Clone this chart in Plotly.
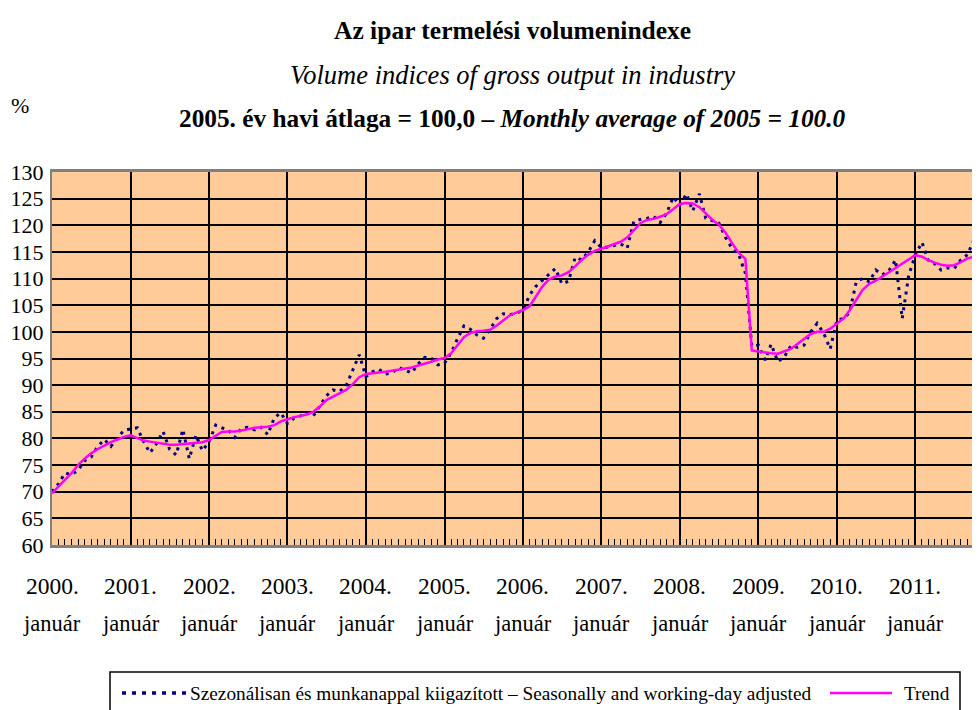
import plotly.graph_objects as go
import pandas as pd

# ---- data ----
years = list(range(2000, 2012))
year_labels = [f"{y}." for y in years]
month_label = "január"

trend = [
    69.7, 70.9, 72.2, 73.5, 75.0, 76.2, 77.2, 78.0, 78.7, 79.3, 79.8, 80.3,      # 2000
    80.6, 80.0, 79.6, 79.4, 79.2, 79.0, 78.8, 78.8, 78.9, 79.0, 79.1, 79.3,      # 2001
    79.7, 80.5, 81.2, 81.3, 81.3, 81.5, 81.8, 82.0, 82.1, 82.2, 82.5, 83.2,      # 2002
    83.6, 84.0, 84.2, 84.5, 85.0, 86.0, 87.2, 87.8, 88.4, 89.1, 90.2, 91.5,      # 2003
    92.1, 92.2, 92.3, 92.5, 92.7, 92.9, 93.0, 93.3, 93.7, 94.0, 94.4, 94.8,      # 2004
    95.1, 96.0, 97.5, 99.0, 99.8, 100.1, 100.2, 100.4, 101.2, 102.2, 103.1, 103.6,  # 2005
    104.1, 104.8, 106.5, 108.5, 109.8, 110.4, 110.6, 111.2, 112.3, 113.5, 114.5, 115.2,  # 2006
    115.6, 116.0, 116.4, 116.9, 117.7, 119.0, 120.4, 121.0, 121.2, 121.6, 122.1, 123.0,  # 2007
    124.0, 124.2, 124.1, 123.4, 122.2, 121.0, 120.1, 118.6, 116.6, 114.8, 113.7, 96.5,   # 2008
    96.3, 96.1, 96.0, 95.9, 96.3, 96.8, 97.7, 98.7, 99.6, 100.0, 100.0, 100.6,   # 2009
    101.5, 102.5, 104.0, 106.0, 107.9, 109.0, 109.6, 110.4, 111.2, 112.0, 112.9, 113.7,  # 2010
    114.4, 114.1, 113.5, 113.0, 112.6, 112.4, 112.5, 113.1, 113.8, 114.1, 113.6,         # 2011
]

adjusted = [
    70.0, 71.5, 73.5, 73.2, 74.0, 75.8, 76.5, 78.5, 79.8, 78.5, 80.2, 81.5,      # 2000
    81.8, 82.0, 79.5, 77.3, 79.0, 81.3, 78.0, 76.9, 81.7, 76.2, 80.6, 77.7,      # 2001
    79.4, 82.5, 82.0, 81.6, 80.2, 81.9, 82.1, 81.6, 82.1, 80.7, 83.9, 84.8,      # 2002
    82.8, 83.8, 84.2, 84.8, 84.2, 86.1, 88.0, 89.1, 88.8, 89.9, 92.7, 95.7,      # 2003
    91.6, 92.5, 93.0, 92.1, 92.3, 93.3, 92.8, 92.3, 94.0, 95.2, 95.0, 93.8,      # 2004
    94.1, 96.1, 98.6, 101.1, 100.5, 99.4, 98.8, 100.5, 102.5, 103.4, 103.2, 103.5,  # 2005
    104.1, 106.9, 108.5, 109.7, 110.7, 111.9, 109.0, 109.5, 114.0, 113.5, 115.0, 117.1,  # 2006
    115.8, 115.9, 116.2, 116.5, 115.7, 120.7, 121.1, 121.3, 121.7, 120.5, 122.3, 125.3,  # 2007
    123.8, 125.9, 122.7, 125.9, 121.3, 120.8, 120.4, 117.7, 115.6, 114.5, 111.0, 97.3,   # 2008
    97.5, 94.7, 97.7, 94.4, 95.3, 97.4, 97.1, 97.5, 100.0, 101.6, 99.7, 96.8,    # 2009
    102.2, 102.5, 103.6, 109.4, 110.0, 109.4, 111.6, 110.7, 111.5, 113.5, 102.5, 110.5,  # 2010
    114.5, 116.8, 113.5, 112.8, 111.6, 112.0, 111.9, 113.5, 114.5, 117.3, 118.0,         # 2011
]

months = pd.date_range("2000-01-01", periods=len(trend), freq="MS")

name_sa = "Szezonálisan és munkanappal kiigazított – Seasonally and working-day adjusted"
name_trend = "Trend"

SERIF = "'Liberation Serif', 'Times New Roman', serif"
SA_COLOR = "#000080"
TREND_COLOR = "#FF00FF"
SA_DASH = "3px,5px"

# ---- layout geometry (figure pixels; page has an 8px body margin) ----
OFF = 8
W, H = 980 - OFF, 710 - OFF
L, T = 52 - OFF, 172 - OFF
PLOT_BOTTOM = 545 - OFF
R, B = 0, H - PLOT_BOTTOM
plot_w = W - L - R
plot_h = PLOT_BOTTOM - T

def py(ypx):  # screen pixel -> paper y
    return (PLOT_BOTTOM - (ypx - OFF)) / plot_h

def px(xpx):  # screen pixel -> paper x
    return ((xpx - OFF) - L) / plot_w

fig = go.Figure()
fig.add_trace(go.Scatter(
    x=months, y=adjusted, mode="lines", name=name_sa,
    line=dict(color=SA_COLOR, width=3, dash=SA_DASH),
))
fig.add_trace(go.Scatter(
    x=months, y=trend, mode="lines", name=name_trend,
    line=dict(color=TREND_COLOR, width=2.5),
))

jan_ticks = [f"{y}-01-01" for y in years]

fig.update_layout(
    width=W, height=H,
    margin=dict(l=L, r=R, t=T, b=B, autoexpand=False),
    paper_bgcolor="white",
    plot_bgcolor="#FFCC99",
    font=dict(family=SERIF, color="black", size=20),
    showlegend=False,
    xaxis=dict(
        type="date",
        range=["2000-01-01", "2011-10-29"],
        tickvals=jan_ticks,
        showticklabels=False,
        showgrid=True, gridcolor="black", gridwidth=1.5,
        showline=True, linecolor="#808080", linewidth=2.5, mirror=True,
        ticks="inside", ticklen=6, tickcolor="black", tickwidth=1,
        minor=dict(ticks="inside", ticklen=6, tickcolor="black", tickwidth=1,
                   dtick="M1", tick0="2000-01-01", showgrid=False),
        zeroline=False, automargin=False,
    ),
    yaxis=dict(
        range=[60, 130],
        tickvals=list(range(60, 131, 5)),
        showgrid=True, gridcolor="black", gridwidth=1.5,
        showline=True, linecolor="#808080", linewidth=2,
        ticks="", tickfont=dict(family=SERIF, size=22, color="black"),
        ticklabelstandoff=2,
        zeroline=False, automargin=False,
    ),
)

ann = []
for y, lab in zip(years, year_labels):
    ann.append(dict(x=f"{y}-01-01", xref="x", y=py(586), yref="paper",
                    text=lab, showarrow=False, xanchor="center", yanchor="middle",
                    font=dict(family=SERIF, size=23.5, color="black")))
    ann.append(dict(x=f"{y}-01-01", xref="x", y=py(623), yref="paper",
                    text=month_label, showarrow=False, xanchor="center", yanchor="middle",
                    font=dict(family=SERIF, size=22.5, color="black")))

cx = px(512)
ann.append(dict(x=cx, xref="paper", y=py(30), yref="paper",
                text="<b>Az ipar termelési volumenindexe</b>", showarrow=False,
                xanchor="center", yanchor="middle",
                font=dict(family=SERIF, size=25.5, color="black")))
ann.append(dict(x=cx, xref="paper", y=py(75), yref="paper",
                text="<i>Volume indices of gross output in industry</i>", showarrow=False,
                xanchor="center", yanchor="middle",
                font=dict(family=SERIF, size=26.5, color="black")))
ann.append(dict(x=cx, xref="paper", y=py(118), yref="paper",
                text="<b>2005. év havi átlaga = 100,0 – <i>Monthly average of 2005 = 100.0</i></b>",
                showarrow=False, xanchor="center", yanchor="middle",
                font=dict(family=SERIF, size=25.3, color="black")))
ann.append(dict(x=px(20), xref="paper", y=py(105), yref="paper",
                text="%", showarrow=False, xanchor="center", yanchor="middle",
                font=dict(family=SERIF, size=22, color="black")))

# ---- legend (drawn by hand to match the original layout) ----
leg_y = py(693)
ann.append(dict(x=px(188), xref="paper", y=leg_y, yref="paper",
                text=name_sa, showarrow=False, xanchor="left", yanchor="middle",
                font=dict(family=SERIF, size=19.3, color="black")))
ann.append(dict(x=px(902), xref="paper", y=leg_y, yref="paper",
                text=name_trend, showarrow=False, xanchor="left", yanchor="middle",
                font=dict(family=SERIF, size=19.3, color="black")))

shapes = [
    dict(type="rect", xref="paper", yref="paper",
         x0=px(110), x1=px(960), y0=py(672), y1=py(740),
         line=dict(color="black", width=1.5), fillcolor="white", layer="below"),
    dict(type="line", xref="paper", yref="paper",
         x0=px(122), x1=px(188), y0=leg_y, y1=leg_y,
         line=dict(color=SA_COLOR, width=3.5, dash="4px,6px")),
    dict(type="line", xref="paper", yref="paper",
         x0=px(830), x1=px(892), y0=leg_y, y1=leg_y,
         line=dict(color=TREND_COLOR, width=2.5)),
]

fig.update_layout(annotations=ann, shapes=shapes)
fig.write_html("out.html")
